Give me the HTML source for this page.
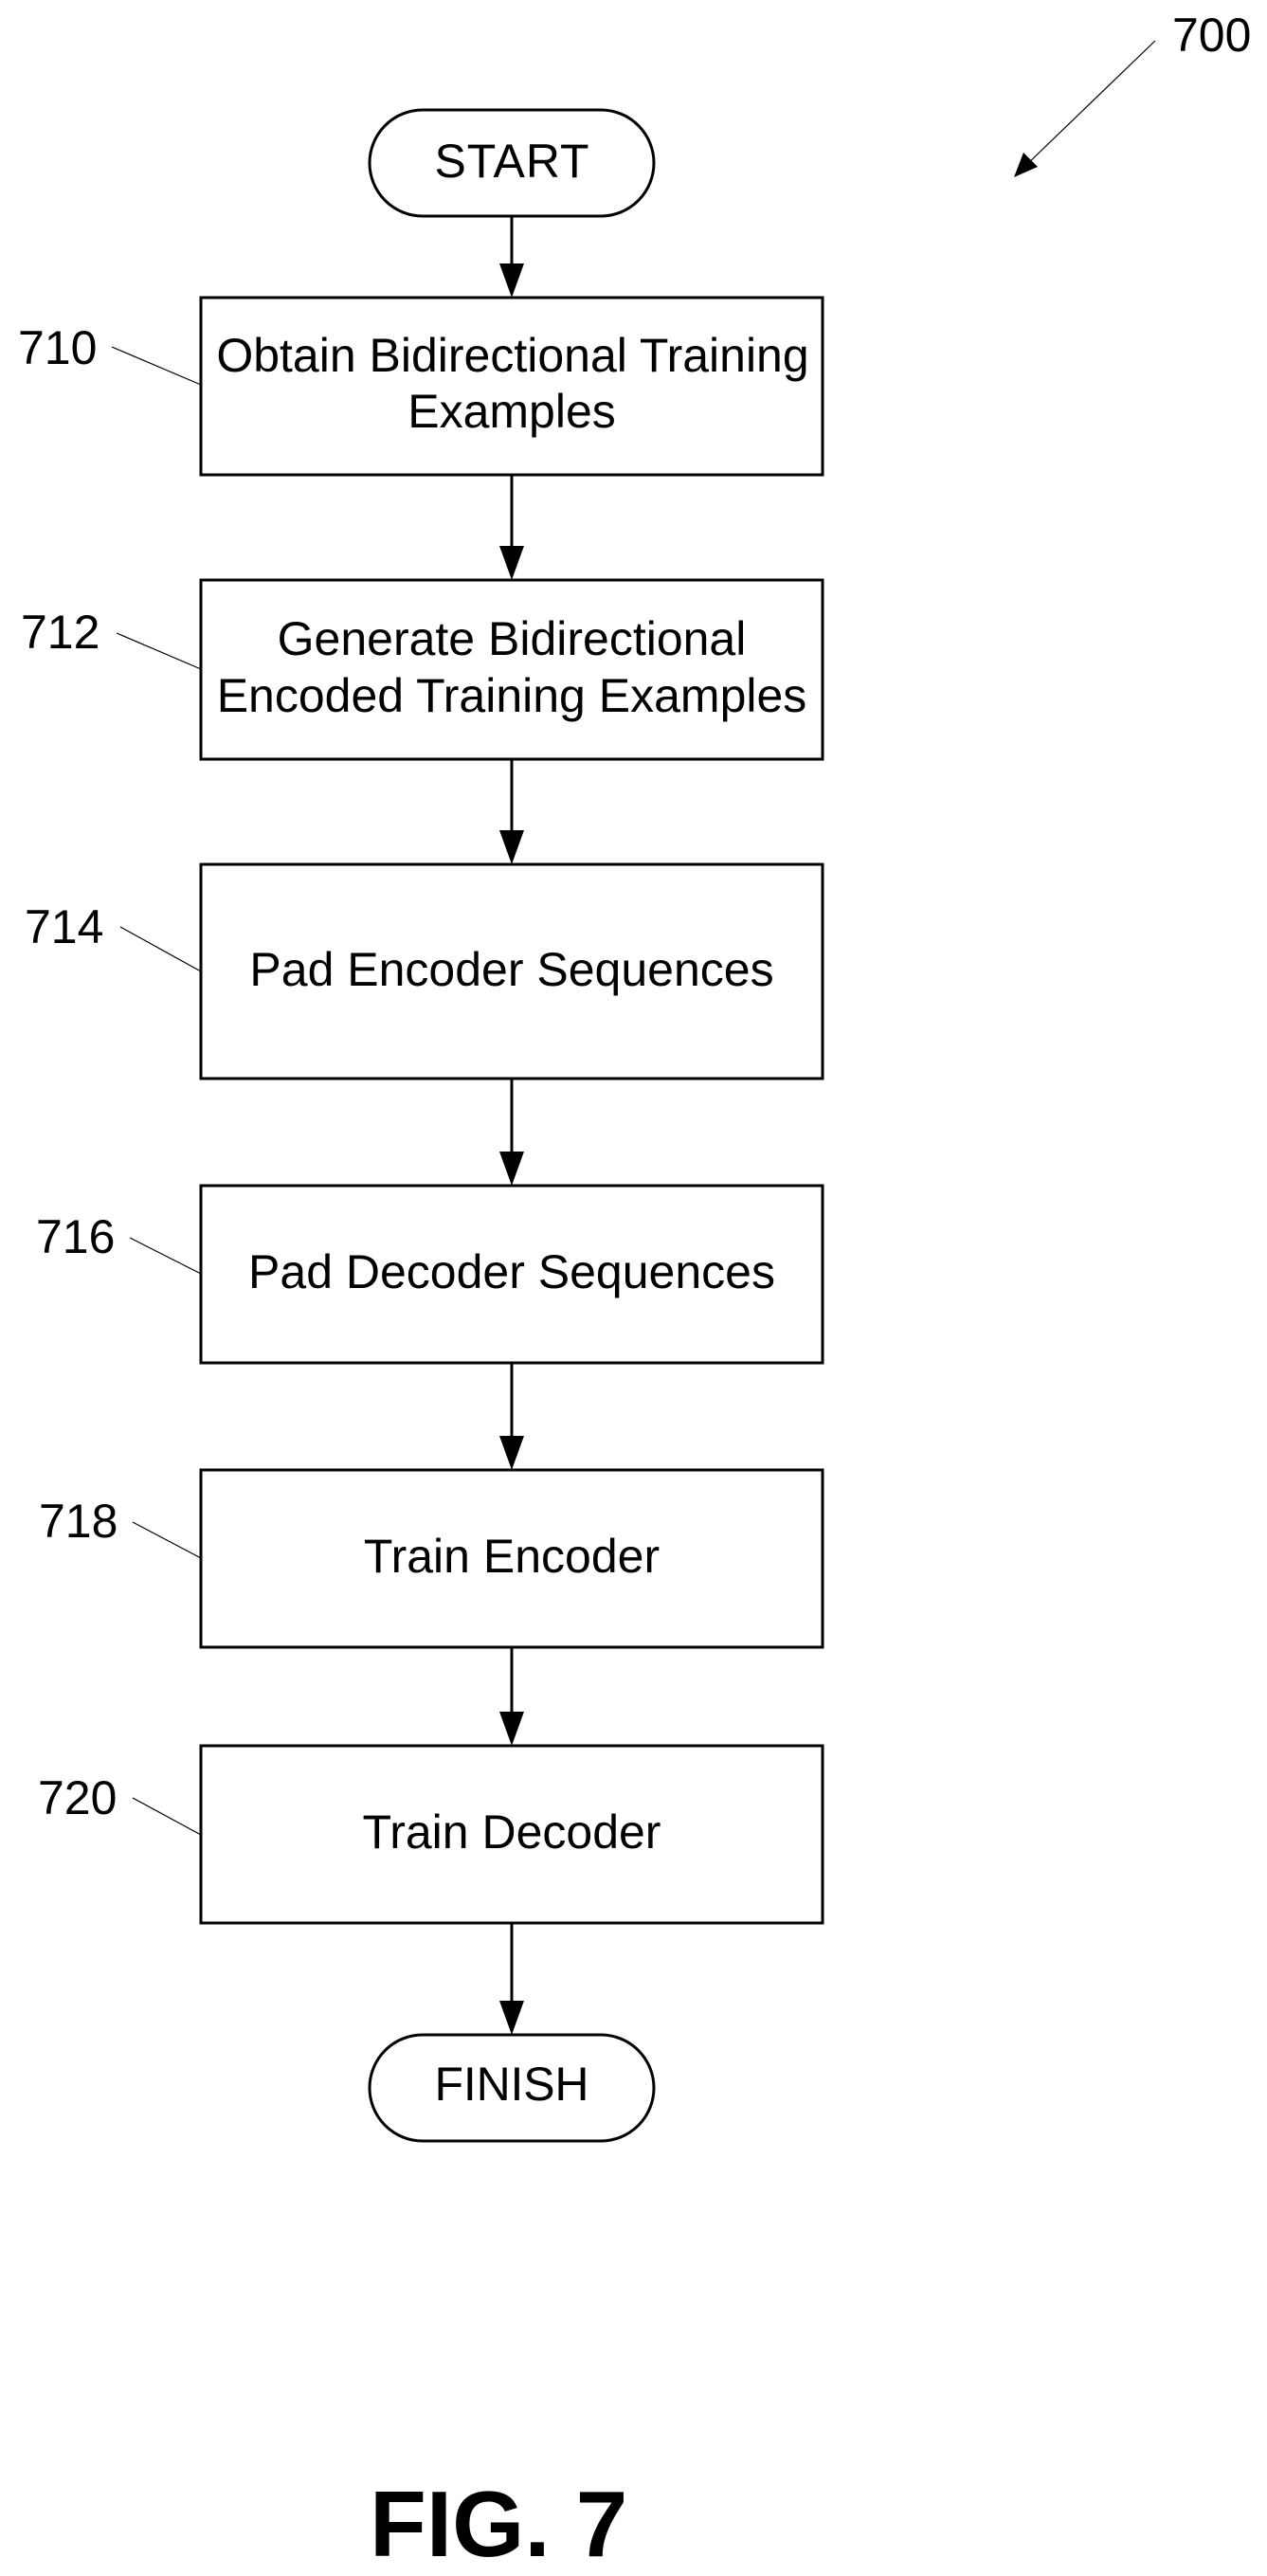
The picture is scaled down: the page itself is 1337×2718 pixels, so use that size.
<!DOCTYPE html>
<html>
<head>
<meta charset="utf-8">
<style>
html,body{margin:0;padding:0;background:#fff;width:1337px;height:2718px;overflow:hidden}
svg{display:block}
text{font-family:"Liberation Sans",Arial,sans-serif;font-size:50px;fill:#000}
.c{text-anchor:middle}
.b{fill:#fff;stroke:#000;stroke-width:3}
.a{stroke:#000;stroke-width:3;fill:none}
.l{stroke:#000;stroke-width:1.2;fill:none}
</style>
</head>
<body>
<svg width="1337" height="2718" viewBox="0 0 1337 2718" xmlns="http://www.w3.org/2000/svg">
<rect width="1337" height="2718" fill="#fff"/>

<!-- connectors -->
<path class="a" d="M540 229V285M540 501V583M540 801V884M540 1138V1222M540 1438V1522M540 1738V1812M540 2029V2118"/>
<path d="M527 278H553L540 314Z M527 576H553L540 612Z M527 876H553L540 912Z M527 1215H553L540 1251Z M527 1515H553L540 1551Z M527 1806H553L540 1842Z M527 2111H553L540 2147Z" fill="#000"/>

<!-- terminators -->
<rect class="b" x="390" y="116" width="300" height="112" rx="56" ry="56"/>
<rect class="b" x="390" y="2147" width="300" height="112" rx="56" ry="56"/>

<!-- boxes -->
<rect class="b" x="212" y="314" width="656" height="187"/>
<rect class="b" x="212" y="612" width="656" height="189"/>
<rect class="b" x="212" y="912" width="656" height="226"/>
<rect class="b" x="212" y="1251" width="656" height="187"/>
<rect class="b" x="212" y="1551" width="656" height="187"/>
<rect class="b" x="212" y="1842" width="656" height="187"/>

<!-- box labels -->
<text class="c" x="540" y="187" textLength="163" lengthAdjust="spacing">START</text>
<text class="c" x="541" y="392">Obtain Bidirectional Training</text>
<text class="c" x="540" y="451">Examples</text>
<text class="c" x="540" y="691">Generate Bidirectional</text>
<text class="c" x="540" y="751">Encoded Training Examples</text>
<text class="c" x="540" y="1040">Pad Encoder Sequences</text>
<text class="c" x="540" y="1359">Pad Decoder Sequences</text>
<text class="c" x="540" y="1659">Train Encoder</text>
<text class="c" x="540" y="1950">Train Decoder</text>
<text class="c" x="540" y="2216" textLength="163" lengthAdjust="spacing">FINISH</text>

<!-- leader lines -->
<path class="l" d="M118 366L212 406M123 668L212 706M127 978L212 1025M137 1306L212 1344M140 1606L212 1644M140 1897L212 1936"/>

<!-- reference numerals -->
<text x="19" y="384">710</text>
<text x="22" y="684">712</text>
<text x="26" y="995">714</text>
<text x="38" y="1322">716</text>
<text x="41" y="1622">718</text>
<text x="40" y="1914">720</text>
<text x="1237" y="54">700</text>

<!-- 700 arrow -->
<path class="l" d="M1219 43L1080 177"/>
<path d="M1070 187L1080 161L1095 176Z" fill="#000"/>

<!-- figure caption -->
<text x="390" y="2697" style="font-size:98px;font-weight:bold">FIG. 7</text>
</svg>
</body>
</html>
